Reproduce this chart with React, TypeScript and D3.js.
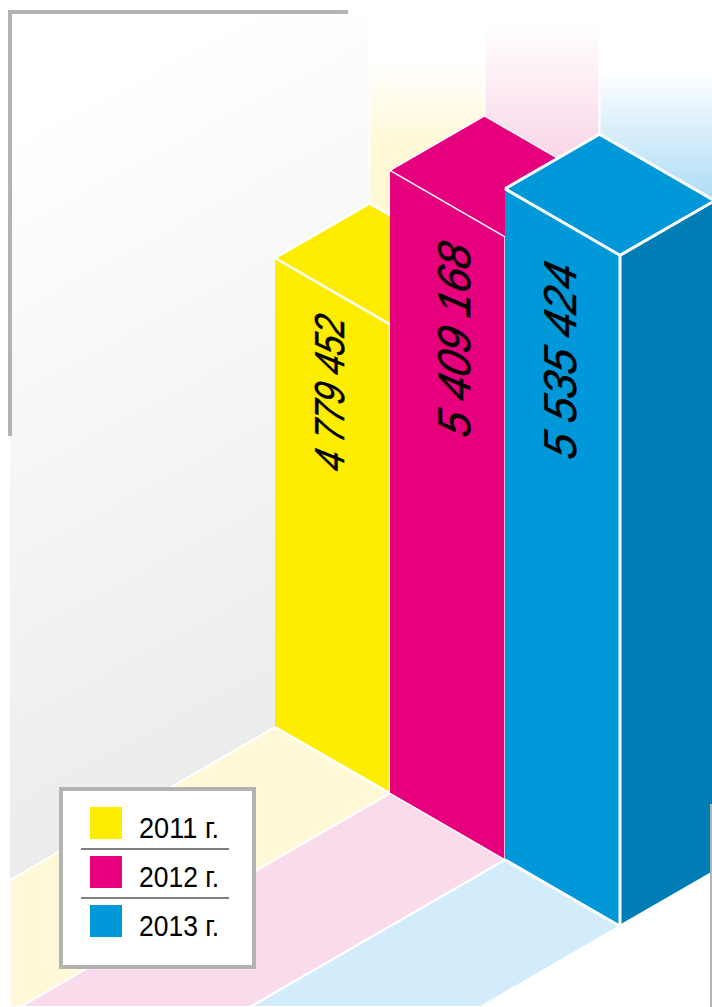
import React from "react";
import * as d3 from "d3";

const years = ["2011", "2012", "2013"];
const values = [4779452, 5409168, 5535424];
const labels = ["4 779 452", "5 409 168", "5 535 424"];

const frontColors = ["#ffed00", "#e6007e", "#0098d8"];
const sideColors = ["#d9c900", "#b80065", "#007db4"];
const floorColors = ["#fff9d8", "#fadbeb", "#d3ecfb"];
const wallColors = ["#fff8d4", "#f8cfe3", "#aedcf6"];
const wallFadeTop = [60, 25, 70];
const wallFadeEnd = [150, 180, 199];
const labelPos = [[344, 473], [470, 439], [576, 461]];
const labelLength = [154, 192, 194];
const labelSize = [42, 46, 46];
const edgeWidth = [2.5, 1.5, 3];

const slope = 0.5775;
const depth = 94.5;

// band = one column along the ground line
const x = d3.scaleBand<string>().domain(years).range([275, 620]);
// the source axis is cut, so the height is pinned at the three values
const height = d3.scaleLinear().domain(values).range([469, 623, 671]);
const color = d3.scaleOrdinal<string, string>().domain(years).range(frontColors);
const ground = (px: number) => 727 + (px - 275) * slope;
const path = d3.line();

export default function App() {
  const w = x.bandwidth();
  return (
    <svg width={712} height={1007} style={{ position: "fixed", left: 0, top: 0, background: "#fff" }}>
      <defs>
        <linearGradient id="side" gradientUnits="userSpaceOnUse" x1={60} y1={100} x2={365} y2={672}>
          <stop offset="0" stopColor="#ffffff" />
          <stop offset="1" stopColor="#ebecec" />
        </linearGradient>
        {years.map((year, i) => (
          <linearGradient key={year} id={"wall" + year} gradientUnits="userSpaceOnUse" x1={0} x2={0} y1={wallFadeTop[i]} y2={wallFadeEnd[i]}>
            <stop offset="0" stopColor="#ffffff" />
            <stop offset="1" stopColor={wallColors[i]} />
          </linearGradient>
        ))}
      </defs>

      {/* left wall */}
      <path d={path([[10, 14], [369, 14], [369, 500], [275, 727], [10, 880]])!} fill="url(#side)" />

      {/* back walls */}
      {years.map((year, i) => {
        const x0 = x(year)! + depth;
        return (
          <rect key={year} x={x0 + 1} y={wallFadeTop[i]} width={w - 2} height={260} fill={`url(#wall${year})`} />
        );
      })}

      {/* floor bands */}
      {years.map((year, i) => {
        const x0 = x(year)!;
        const x1 = x0 + w;
        const far = (px: number) => [px - (1007 - ground(px)) / slope, 1007] as [number, number];
        const pts: [number, number][] = i === 0
          ? [[x0, ground(x0)], [10, ground(x0) + (x0 - 10) * slope], [10, 1007], far(x1), [x1, ground(x1)]]
          : [[x0, ground(x0)], far(x0), far(x1), [x1, ground(x1)]];
        return <path key={year} d={path(pts)!} fill={floorColors[i]} stroke="#fff" strokeWidth={2} />;
      })}

      {/* columns */}
      {years.map((year, i) => {
        const x0 = x(year)!;
        const x1 = x0 + w;
        const b0 = ground(x0);
        const b1 = ground(x1);
        const h = height(values[i]);
        const t0 = b0 - h;
        const t1 = b1 - h;
        return (
          <g key={year} stroke="#fff" strokeWidth={edgeWidth[i]} strokeLinejoin="round">
            <path d={path([[x1, t1], [x1 + depth, t1 - depth * slope], [x1 + depth, b1 - depth * slope], [x1, b1]])!} fill={sideColors[i]} />
            <path d={path([[x0, t0], [x0 + depth, t0 - depth * slope], [x1 + depth, t1 - depth * slope], [x1, t1]])!} fill={color(year)} />
            <path d={path([[x0, t0], [x1, t1], [x1, b1], [x0, b0]])!} fill={color(year)} />
          </g>
        );
      })}

      {/* value labels */}
      {labels.map((label, i) => (
        <text
          key={label}
          transform={`translate(${labelPos[i][0]},${labelPos[i][1]}) rotate(-90) skewX(-14)`}
          fontFamily="'Liberation Sans'"
          fontStyle="italic"
          fontSize={labelSize[i]}
          textLength={labelLength[i]}
          lengthAdjust="spacingAndGlyphs"
          fill="#000"
          stroke="#000"
          strokeWidth={0.4}
        >
          {label}
        </text>
      ))}

      {/* frame */}
      <path d={path([[10, 436], [10, 12], [348, 12]])!} fill="none" stroke="#b2b3b3" strokeWidth={4} />
      <rect x={710} y={804} width={2} height={203} fill="#b2b3b3" />

      {/* legend */}
      <rect x={61} y={789} width={193} height={178} fill="#fff" stroke="#b2b3b3" strokeWidth={4} />
      {years.map((year, i) => {
        const y = d3.scaleLinear().domain([0, 1]).range([807, 856])(i);
        return (
          <g key={year}>
            <rect x={90} y={y} width={32} height={32} fill={color(year)} />
            <text x={139} y={y + 31} fontFamily="'Liberation Sans'" fontSize={29} textLength={80} lengthAdjust="spacingAndGlyphs" fill="#000">
              {`${year} г.`}
            </text>
            {i < 2 && <line x1={81} x2={229} y1={y + 42} y2={y + 42} stroke="#000" strokeWidth={1} />}
          </g>
        );
      })}
    </svg>
  );
}
